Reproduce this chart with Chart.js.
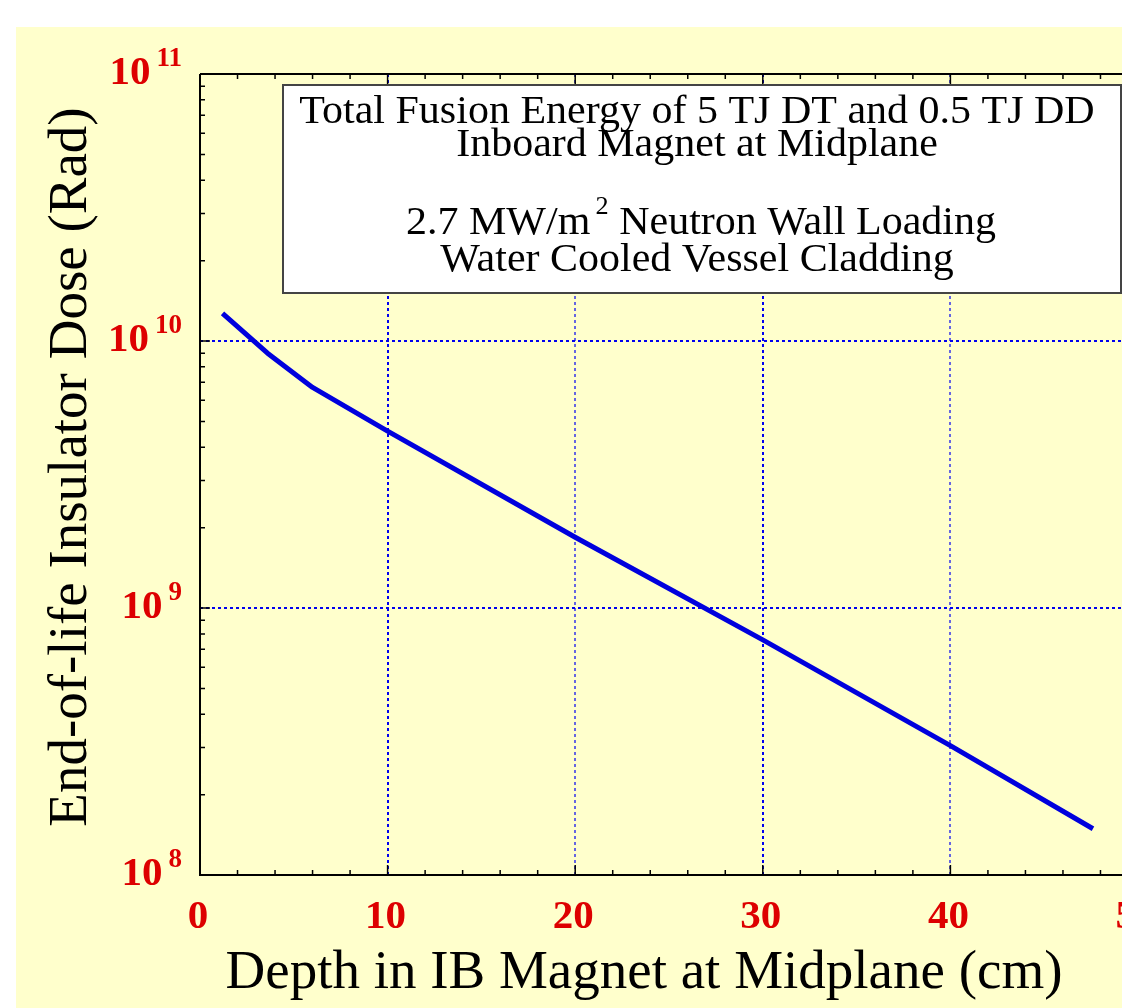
<!DOCTYPE html>
<html><head><meta charset="utf-8">
<script src="https://cdn.jsdelivr.net/npm/chart.js@4/dist/chart.umd.min.js"></script>
<style>
html,body{margin:0;padding:0;background:#fff;overflow:hidden;width:1122px;height:1008px;}
#wrap{position:absolute;left:0;top:0;width:1138px;height:1008px;}
</style></head><body><div id="wrap"><canvas id="c"></canvas></div>
<script>
// ---- data ----
const depthCm = [1.2, 3.6, 6.0, 10, 20, 30, 40, 47.6];
const doseRad = [1.27e10, 9.0e9, 6.7e9, 4.6e9, 1.84e9, 7.6e8, 3.05e8, 1.49e8];
const xTickValues = [0, 10, 20, 30, 40, 50];
const yTickExponents = [8, 9, 10, 11];
const xTitle = 'Depth in IB Magnet at Midplane (cm)';
const yTitle = 'End-of-life Insulator Dose (Rad)';
const boxLine1 = 'Total Fusion Energy of 5 TJ DT and 0.5 TJ DD';
const boxLine2 = 'Inboard Magnet at Midplane';
const boxLine3a = '2.7 MW/m';
const boxLine3sup = '2';
const boxLine3b = ' Neutron Wall Loading';
const boxLine4 = 'Water Cooled Vessel Cladding';

const SERIF = '"Liberation Serif","Times New Roman",serif';
const RED = '#dd0000';

const framePlugin = {
  id: 'frame',
  beforeDraw(chart) {
    const ctx = chart.ctx;
    ctx.save();
    ctx.fillStyle = '#ffffff';
    ctx.fillRect(0, 0, chart.width, chart.height);
    ctx.fillStyle = '#ffffcc';
    ctx.fillRect(16, 27, chart.width - 16, chart.height - 27);
    ctx.restore();
  },
  beforeDatasetsDraw(chart) {
    const {ctx, chartArea: a, scales: {x, y}} = chart;
    ctx.save();
    ctx.strokeStyle = '#0000ee';
    ctx.setLineDash([3, 3]);
    xTickValues.forEach((v, i) => {
      if (v <= x.min || v >= x.max) return;
      const px = Math.round(x.getPixelForValue(v));
      ctx.lineWidth = (i % 2 === 1) ? 2 : 1.2;
      ctx.beginPath();
      ctx.moveTo(px, a.top); ctx.lineTo(px, a.bottom);
      ctx.stroke();
    });
    yTickExponents.forEach(e => {
      const v = Math.pow(10, e);
      if (v <= y.min || v >= y.max) return;
      const py = Math.round(y.getPixelForValue(v));
      ctx.lineWidth = 2;
      ctx.beginPath();
      ctx.moveTo(a.left, py); ctx.lineTo(a.right, py);
      ctx.stroke();
    });
    ctx.restore();
  },
  afterDatasetsDraw(chart) {
    const {ctx, chartArea: a, scales: {x, y}} = chart;
    ctx.save();
    ctx.setLineDash([]);
    // axis lines
    ctx.strokeStyle = '#000';
    ctx.lineWidth = 2;
    ctx.beginPath();
    ctx.moveTo(a.left, a.top); ctx.lineTo(a.left, a.bottom); ctx.lineTo(a.right, a.bottom);
    ctx.moveTo(a.left, a.top); ctx.lineTo(a.right, a.top);
    ctx.stroke();
    // ticks
    ctx.lineWidth = 1.5;
    ctx.beginPath();
    for (let v = x.min; v <= x.max + 1e-9; v += 2) {
      const px = x.getPixelForValue(v);
      const len = (Math.abs(v % 10) < 1e-9) ? 10 : 5;
      ctx.moveTo(px, a.bottom); ctx.lineTo(px, a.bottom - len);
      ctx.moveTo(px, a.top); ctx.lineTo(px, a.top + len);
    }
    const eMin = Math.round(Math.log10(y.min)), eMax = Math.round(Math.log10(y.max));
    for (let e = eMin; e <= eMax; e++) {
      for (let m = 1; m <= 9; m++) {
        const v = m * Math.pow(10, e);
        if (v > y.max * 1.0001) break;
        const py = y.getPixelForValue(v);
        const len = m === 1 ? 10 : 5;
        ctx.moveTo(a.left, py); ctx.lineTo(a.left + len, py);
      }
    }
    ctx.stroke();

    // x tick labels
    ctx.fillStyle = RED;
    ctx.font = 'bold 41px ' + SERIF;
    ctx.textAlign = 'center';
    ctx.textBaseline = 'alphabetic';
    xTickValues.forEach(v => {
      ctx.fillText(String(v), x.getPixelForValue(v) - 2, 928);
    });
    // y tick labels 10^n
    yTickExponents.forEach(e => {
      const py = y.getPixelForValue(Math.pow(10, e));
      const right = 182;
      ctx.font = 'bold 27px ' + SERIF;
      const ew = ctx.measureText(String(e)).width;
      ctx.textAlign = 'left';
      ctx.fillText(String(e), right - ew, py - 8);
      ctx.font = 'bold 41px ' + SERIF;
      const bw = ctx.measureText('10').width;
      ctx.fillText('10', right - ew - 6 - bw, py + 10);
    });

    // axis titles
    ctx.fillStyle = '#000';
    ctx.font = '55px ' + SERIF;
    ctx.textAlign = 'center';
    ctx.fillText(xTitle, 644, 988);
    ctx.save();
    ctx.translate(86, 467);
    ctx.rotate(-Math.PI / 2);
    ctx.fillText(yTitle, 0, 0);
    ctx.restore();

    // annotation box
    const bx = 283, by = 85, bw2 = 1121 - 283, bh = 293 - 85;
    ctx.fillStyle = '#ffffff';
    ctx.fillRect(bx, by, bw2, bh);
    ctx.strokeStyle = '#444';
    ctx.lineWidth = 2;
    ctx.strokeRect(bx, by, bw2, bh);

    const cx = 697, sx = 1.05;
    ctx.fillStyle = '#000';
    ctx.font = '40px ' + SERIF;
    const centered = (txt, base) => {
      ctx.save();
      ctx.translate(cx, base);
      ctx.scale(sx, 1);
      ctx.textAlign = 'center';
      ctx.fillText(txt, 0, 0);
      ctx.restore();
    };
    centered(boxLine1, 123);
    centered(boxLine2, 156);
    centered(boxLine4, 271);
    // line 3 with superscript
    ctx.save();
    ctx.translate(cx + 4, 234);
    ctx.scale(sx, 1);
    ctx.textAlign = 'left';
    ctx.font = '40px ' + SERIF;
    const wa = ctx.measureText(boxLine3a).width;
    const wb = ctx.measureText(boxLine3b).width;
    ctx.font = '25px ' + SERIF;
    const ws = ctx.measureText(boxLine3sup).width;
    const gap = 5;
    const total = wa + gap + ws + wb;
    let sx0 = -total / 2;
    ctx.font = '40px ' + SERIF;
    ctx.fillText(boxLine3a, sx0, 0);
    ctx.font = '25px ' + SERIF;
    ctx.fillText(boxLine3sup, sx0 + wa + gap, -20);
    ctx.font = '40px ' + SERIF;
    ctx.fillText(boxLine3b, sx0 + wa + gap + ws, 0);
    ctx.restore();

    ctx.restore();
  }
};

new Chart(document.getElementById('c'), {
  type: 'line',
  data: {
    datasets: [{
      data: depthCm.map((d, i) => ({x: d, y: doseRad[i]})),
      borderColor: '#0000dd',
      borderWidth: 5,
      pointRadius: 0,
      tension: 0,
      fill: false,
      borderCapStyle: 'butt',
      borderJoinStyle: 'round'
    }]
  },
  options: {
    responsive: true,
    maintainAspectRatio: false,
    devicePixelRatio: 1,
    animation: false,
    layout: {padding: {left: 200, top: 74, right: 0, bottom: 133}},
    plugins: {legend: {display: false}, tooltip: {enabled: false}, title: {display: false}},
    scales: {
      x: {type: 'linear', min: 0, max: 50, display: false},
      y: {type: 'logarithmic', min: 1e8, max: 1e11, display: false}
    }
  },
  plugins: [framePlugin]
});
</script></body></html>
